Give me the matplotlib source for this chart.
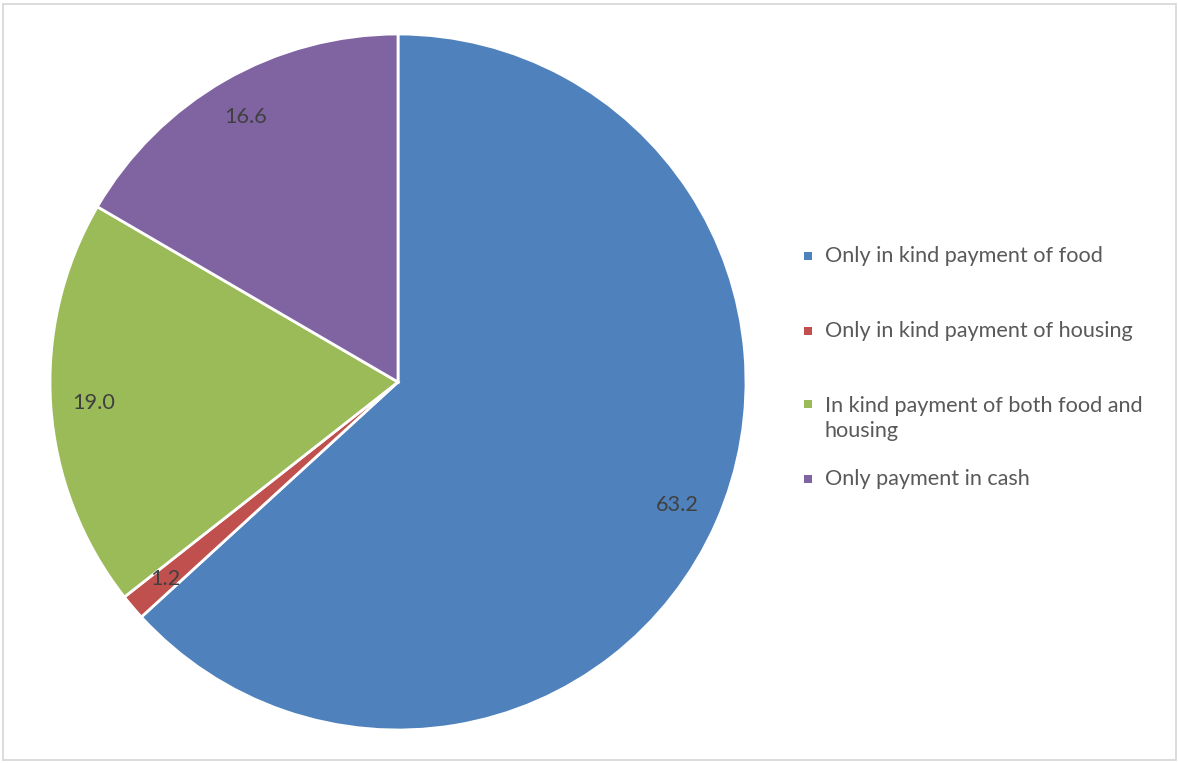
import matplotlib
matplotlib.use("Agg")
import matplotlib.pyplot as plt
from matplotlib.patches import Rectangle

categories = [
    "Only in kind payment of food",
    "Only in kind payment of housing",
    "In kind payment of both food and\nhousing",
    "Only payment in cash",
]
shares = [63.2, 1.2, 19.0, 16.6]
colors = ["#4F81BD", "#C0504D", "#9BBB59", "#8064A2"]

W, H = 1178, 763
fig = plt.figure(figsize=(W / 100, H / 100), dpi=100)
plt.rcParams["font.family"] = ["Lato", "DejaVu Sans"]
FS = 15.6

# pie axes: centre (398, 382) px, radius 348 px
cx, cy, r = 398, 382, 348
ax = fig.add_axes([(cx - r) / W, (H - cy - r) / H, 2 * r / W, 2 * r / H])
wedges, texts = ax.pie(
    shares,
    colors=colors,
    startangle=90,
    counterclock=False,
    radius=1.0,
    labels=[f"{v:.1f}" for v in shares],
    labeldistance=0.877,
    wedgeprops=dict(edgecolor="white", linewidth=2.0),
    textprops=dict(color="#404040", fontsize=FS),
)
for t in texts:
    t.set_ha("center")
    t.set_va("center")
ax.set_xlim(-1, 1)
ax.set_ylim(-1, 1)
ax.set_aspect("equal")
ax.axis("off")

# legend entries drawn at fixed positions
leg_rows = [256, 331, 404, 479]
mx, tx = 808, 825
for label, col, y in zip(categories, colors, leg_rows):
    fig.patches.append(
        Rectangle(((mx - 4) / W, 1 - (y + 4) / H), 8 / W, 8 / H,
                  transform=fig.transFigure, facecolor=col, edgecolor="none")
    )
    n = label.count("\n")
    fig.text(tx / W, 1 - (y + 14.5 * n) / H, label, ha="left", va="center",
             color="#595959", fontsize=FS, linespacing=1.3)

# outer frame
fig.patches.append(
    Rectangle((2.5 / W, 1 - 760 / H), 1173 / W, 756.5 / H, transform=fig.transFigure,
              facecolor="none", edgecolor="#D9D9D9", linewidth=1.3)
)

fig.savefig("out.png", dpi=100, facecolor="white")
